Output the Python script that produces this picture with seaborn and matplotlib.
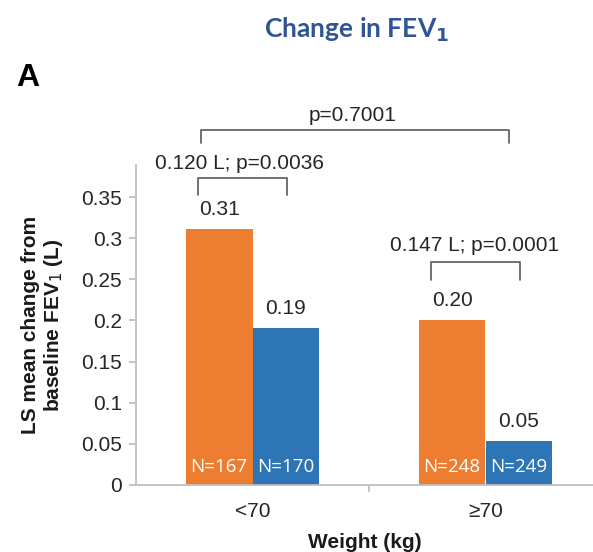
import matplotlib
matplotlib.use("Agg")
import matplotlib.pyplot as plt
import seaborn as sns
import pandas as pd

# ---- data ----
weight_groups = ["<70", "≥70"]
treatments = ["Active", "Placebo"]
active_values = [0.311, 0.201]
placebo_values = [0.191, 0.054]
active_n = ["N=167", "N=248"]
placebo_n = ["N=170", "N=249"]
value_labels_active = ["0.31", "0.20"]
value_labels_placebo = ["0.19", "0.05"]
diff_labels = ["0.120 L; p=0.0036", "0.147 L; p=0.0001"]
between_label = "p=0.7001"

df = pd.DataFrame({
    "Weight": weight_groups * 2,
    "Treatment": [treatments[0]] * 2 + [treatments[1]] * 2,
    "Value": active_values + placebo_values,
})

sns.set_theme(style="white")
plt.rcParams["font.family"] = ["Liberation Sans", "DejaVu Sans"]

W, H = 593, 552
fig = plt.figure(figsize=(W / 100, H / 100), dpi=100)
ax = fig.add_axes([136 / W, 1 - 485 / H, (W - 136) / W, 320 / H])

orange = "#ED7D31"
blue = "#2E75B6"
sns.barplot(data=df, x="Weight", y="Value", hue="Treatment", order=weight_groups,
            hue_order=treatments, palette=[orange, blue], width=0.575,
            saturation=1, legend=False, ax=ax, edgecolor="none", linewidth=0)

ax.set_ylim(0, 0.3889)
ax.set_xlim(-0.5, -0.5 + 457 / 233)
ax.set_yticks([0, 0.05, 0.1, 0.15, 0.2, 0.25, 0.3, 0.35])
ax.set_yticklabels(["0", "0.05", "0.1", "0.15", "0.2", "0.25", "0.3", "0.35"])

spine_col = "#BFBFBF"
for s in ["top", "right"]:
    ax.spines[s].set_visible(False)
for s in ["left", "bottom"]:
    ax.spines[s].set_color(spine_col)
    ax.spines[s].set_linewidth(1.3)

ax.tick_params(axis="y", which="major", direction="out", length=5, width=1.3,
               color=spine_col, labelsize=15, labelcolor="#262626", pad=5, left=True)
ax.tick_params(axis="x", which="major", length=0, labelsize=15, labelcolor="#262626", pad=12)
ax.set_xticks([0.5], minor=True)
ax.tick_params(axis="x", which="minor", direction="out", length=5, width=1.3,
               color=spine_col, bottom=True)

ax.set_xlabel("Weight (kg)", fontsize=15, fontweight="bold", color="#1a1a1a", labelpad=9)
ax.set_ylabel("LS mean change from\nbaseline FEV$_1$ (L)", fontsize=15, fontweight="bold",
              color="#1a1a1a", labelpad=12, linespacing=1.1)

# value labels and N labels from bar patches
patches = sorted(ax.patches, key=lambda p: p.get_x())
labels_top = [value_labels_active[0], value_labels_placebo[0],
              value_labels_active[1], value_labels_placebo[1]]
labels_n = [active_n[0], placebo_n[0], active_n[1], placebo_n[1]]
for p, lt, ln in zip(patches, labels_top, labels_n):
    cx = p.get_x() + p.get_width() / 2
    ax.annotate(lt, (cx, p.get_height()), xytext=(0, 14), textcoords="offset points",
                ha="center", va="center", fontsize=15, color="#262626")
    ax.annotate(ln, (cx, 0), xytext=(0, 13), textcoords="offset points",
                ha="center", va="center", fontsize=13.5, color="white",
                family=["Open Sans", "DejaVu Sans"])

# brackets
def bracket(x0, x1, y_top, y_bot, text, ty, tx):
    ax.plot([x0, x0, x1, x1], [y_bot, y_top, y_top, y_bot], color="#595959",
            lw=1.2, clip_on=False)
    ax.text(tx, ty, text, ha="center", va="center", fontsize=15, color="#262626",
            clip_on=False)

bracket(-0.232, 0.146, 0.373, 0.352, diff_labels[0], 0.391, -0.056)
bracket(0.764, 1.146, 0.271, 0.249, diff_labels[1], 0.2916, 0.953)
bracket(-0.219, 1.103, 0.431, 0.4155, between_label, 0.4496, 0.43)

fig.text(357 / W, 1 - 30 / H, "Change in FEV$_\\mathbf{1}$", ha="center", va="center",
         fontsize=19, fontweight="bold", color="#2F5597", family=["Lato", "DejaVu Sans"])
fig.text(28 / W, 1 - 78 / H, "A", ha="center", va="center", fontsize=23,
         fontweight="bold", color="black")

fig.savefig("out.png", dpi=100)
